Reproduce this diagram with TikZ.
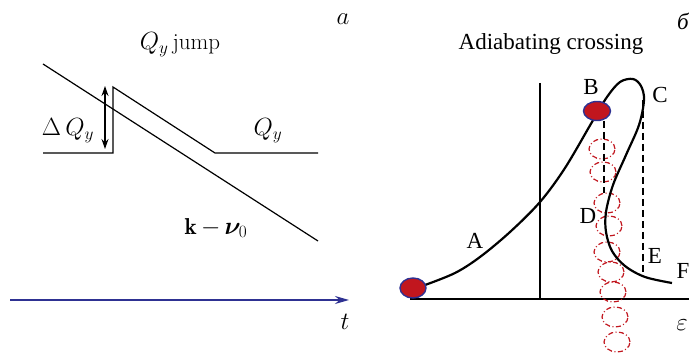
\documentclass[tikz,border=0pt]{standalone}
\usepackage{fontspec}
\usepackage{amsmath,bm}
\newfontfamily\tnr{Liberation Serif}
\usetikzlibrary{arrows.meta,shapes.geometric}
\definecolor{axblue}{HTML}{2E3192}
\definecolor{dotred}{HTML}{C1161E}
\tikzset{
  line/.style={black, line width=1.2pt},
  curve/.style={black, line width=2.2pt},
  lbl/.style={font=\fontsize{23}{27}\selectfont\tnr, inner sep=0pt},
  mlbl/.style={font=\fontsize{23}{27}\selectfont, inner sep=0pt},
  ball/.style={draw=axblue, fill=dotred, line width=1.4pt, ellipse},
  ghost/.style={draw=dotred, line width=1.2pt, dash pattern=on 5pt off 2.5pt on 1pt off 2.5pt},
  dashv/.style={black, line width=1.2pt, dash pattern=on 7pt off 4pt},
}
\begin{document}
\begin{tikzpicture}[x=1pt,y=-1pt]
\useasboundingbox (0,0) rectangle (689,355);
% ---------- panel a ----------
\node[mlbl] (la) at (343,19) {$a$};
\node[mlbl] (ta) at (180,45) {$Q_y\,$jump};
\coordinate (l1s) at (43,64);
\coordinate (l1e) at (318,241);
\draw[line] (l1s) -- (l1e);
\coordinate (q0) at (43,153);
\coordinate (q1) at (113,153);
\coordinate (q2) at (113,87);
\coordinate (q3) at (215,153);
\coordinate (q4) at (318,153);
\draw[line] (q0) -- (q1) -- (q2) -- (q3) -- (q4);
\coordinate (d1) at (105,86);
\coordinate (d2) at (105,149);
\draw[line, {Stealth[length=10pt,width=7pt]}-{Stealth[length=10pt,width=7pt]}] (d1) -- (d2);
\node[mlbl] (dq) at (68,131) {$\Delta\, Q_y$};
\node[mlbl] (qy) at (268,131) {$Q_y$};
\node[mlbl] (kn) at (216,228) {$\mathbf{k}\,{-}\,\bm{\nu}_0$};
\coordinate (t0) at (10,300);
\coordinate (t1) at (349,300);
\draw[axblue, line width=1.4pt, -{Stealth[length=14pt,width=8pt]}] (t0) -- (t1);
\node[mlbl] (tl) at (345,322) {$t$};
% ---------- panel b ----------
\node[lbl] (lb) at (683,21) {\itshape б};
\node[lbl] (tb) at (551,44) {Adiabating crossing};
\coordinate (v0) at (540,83);
\coordinate (v1) at (540,299);
\draw[line] (v0) -- (v1);
\coordinate (h0) at (410,299);
\coordinate (h1) at (689,299);
\draw[black, line width=1.5pt] (h0) -- (h1);
% ghost ellipses
\foreach \cx/\cy in {602/149, 603/172, 607/203, 609/226, 607/252, 611/272, 613/292, 615/317, 617/342}
  \draw[ghost] (\cx,\cy) ellipse [x radius=13pt, y radius=10pt];
% dashed lines
\coordinate (bd0) at (604,121);
\coordinate (bd1) at (604,193);
\draw[dashv] (bd0) -- (bd1);
\coordinate (cd0) at (643,100);
\coordinate (cd1) at (643,273);
\draw[dashv] (cd0) -- (cd1);
% main curve
\draw[curve] plot[smooth, tension=0.55] coordinates {(425,285) (455,273) (480,257) (510,232) (540,202) (565,168) (592,122) (607,97) (620,82) (633,79) (641,86) (644,100) (639,125) (626,155) (613,185) (606,212) (606,232) (612,251) (625,266) (645,277) (672,283)};
% balls
\node[ball, minimum width=26pt, minimum height=20pt, inner sep=0pt] (s) at (413,288) {};
\node[ball, minimum width=27pt, minimum height=19pt, inner sep=0pt] (b) at (597,111) {};
% labels
\node[lbl] (A) at (475,241) {A};
\node[lbl] (B) at (591,87) {B};
\node[lbl] (C) at (660,95) {C};
\node[lbl] (D) at (588,216) {D};
\node[lbl] (E) at (655,256) {E};
\node[lbl] (F) at (683,271) {F};
\node[mlbl] (eps) at (682,325) {$\varepsilon$};
\end{tikzpicture}
\end{document}
